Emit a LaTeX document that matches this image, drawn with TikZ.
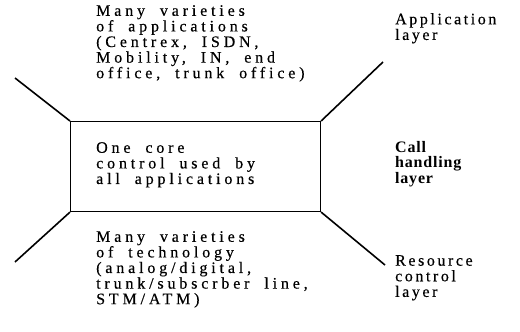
\documentclass[tikz,border=0pt]{standalone}
\usepackage{fontspec}
\setmainfont{Liberation Serif}[LetterSpace=16,WordSpace=1.5,FakeBold=0.4]
\newfontfamily\widetext{Liberation Serif}[LetterSpace=24,WordSpace=1.9,FakeBold=0.4]
\newfontfamily\layerbold{Liberation Serif}[LetterSpace=5,BoldFont={Liberation Serif Bold}]
\begin{document}
\begin{tikzpicture}[x=1pt,y=-1pt,
  txt/.style={anchor=north west, inner sep=0pt, align=left,
    font=\fontsize{16}{15.6}\selectfont},
  desc/.style={txt, font=\fontsize{16}{15.6}\widetext},
  boldtxt/.style={txt, font=\fontsize{16}{15.6}\layerbold\bfseries},
  edge/.style={line width=1.6pt},
  corebox/.style={draw, line width=1.1pt, inner sep=0pt, anchor=north west,
    minimum width=250pt, minimum height=90pt}]
\useasboundingbox (0,0) rectangle (520,332);

% the call handling core
\node[corebox] (core) at (70,121) {};

% free ends of the four slanted lines
\coordinate (tl) at (15,78);
\coordinate (tr) at (383,62);
\coordinate (bl) at (15,262);
\coordinate (br) at (385,265);

\draw[edge] (core.north west) -- (tl);
\draw[edge] (core.north east) -- (tr);
\draw[edge] (core.south west) -- (bl);
\draw[edge] (core.south east) -- (br);

% left-hand descriptions
\node[desc] (apps) at (96,5) {Many varieties\\of applications\\(Centrex, ISDN,\\Mobility, IN, end\\office, trunk office)};
\node[desc] (coretext) at (96,142) {One core\\control used by\\all applications};
\node[desc] (tech) at (96,231) {Many varieties\\of technology\\(analog/digital,\\trunk/subscrber line,\\STM/ATM)};

% layer names
\node[txt] (applayer) at (395,13) {Application\\layer};
\node[boldtxt] (calllayer) at (395,141) {Call\\handling\\layer};
\node[txt] (reslayer) at (395,255) {Resource\\control\\layer};
\end{tikzpicture}
\end{document}
